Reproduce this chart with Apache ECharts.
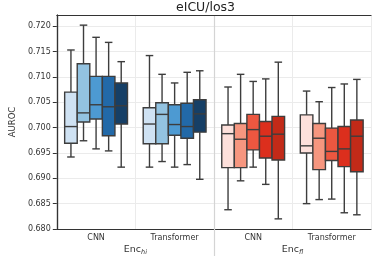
<!DOCTYPE html>
<html><head><meta charset="utf-8">
<script src="https://cdn.jsdelivr.net/npm/echarts@6/dist/echarts.min.js"></script>
<style>html,body{margin:0;padding:0;background:#fff}#c{width:374px;height:259px}</style>
</head><body><div id="c"></div>
<script>
// ---- data ----
const categories = ['CNN', 'Transformer', 'CNN', 'Transformer'];
const groupNames = ['hi', 'fl'];           // Enc subscripts
const yTicks = [0.680, 0.685, 0.690, 0.695, 0.700, 0.705, 0.710, 0.715, 0.720];
// each box: [min, q1, median, q3, max], one entry per category
const hue1 = [[0.6942,0.6969,0.7002,0.7070,0.7153],[0.6922,0.6968,0.7007,0.7039,0.7142],[0.6838,0.6921,0.6988,0.7005,0.7080],[0.6850,0.6950,0.6964,0.7025,0.7072]];
const hue2 = [[0.6974,0.7011,0.7029,0.7126,0.7202],[0.6933,0.6968,0.7026,0.7049,0.7105],[0.6895,0.6921,0.6977,0.7008,0.7105],[0.6858,0.6917,0.6979,0.7008,0.7051]];
const hue3 = [[0.6958,0.7017,0.7045,0.7101,0.7178],[0.6922,0.6985,0.7006,0.7045,0.7088],[0.6922,0.6956,0.6996,0.7026,0.7091],[0.6859,0.6935,0.6953,0.6999,0.7079]];
const hue4 = [[0.6954,0.6984,0.7041,0.7101,0.7168],[0.6927,0.6979,0.7002,0.7048,0.7109],[0.6888,0.6940,0.6983,0.7012,0.7096],[0.6832,0.6923,0.6958,0.7002,0.7086]];
const hue5 = [[0.6922,0.7007,0.7043,0.7088,0.7130],[0.6898,0.6991,0.7027,0.7055,0.7112],[0.6820,0.6936,0.6987,0.7022,0.7129],[0.6828,0.6913,0.6983,0.7015,0.7095]];
const hues = [hue1, hue2, hue3, hue4, hue5];

// ---- style ----
const blues = ['#cfe2f3', '#93c3e1', '#4d9ad2', '#2269a8', '#163f66'];
const reds  = ['#fde0db', '#f6967f', '#ec5740', '#dc2f1d', '#c22a18'];
const FONT = 'DejaVu Sans';
const EDGE = '#3d3d3d';

function makeRender(k) {
  return function (params, api) {
    const cat = api.value(0);
    const band = api.size([1, 0])[0];
    const w = band * 0.8 / 5;
    const off = (k - 2) * w;
    const pMin = api.coord([cat, api.value(1)]);
    const pQ1 = api.coord([cat, api.value(2)]);
    const pMed = api.coord([cat, api.value(3)]);
    const pQ3 = api.coord([cat, api.value(4)]);
    const pMax = api.coord([cat, api.value(5)]);
    const cx = pMin[0] + off;
    const fill = cat < 2 ? blues[k] : reds[k];
    const cap = w * 0.3;
    const ls = { stroke: EDGE, lineWidth: 1.4 };
    return {
      type: 'group',
      children: [
        { type: 'line', shape: { x1: cx, y1: pQ1[1], x2: cx, y2: pMin[1] }, style: ls },
        { type: 'line', shape: { x1: cx, y1: pQ3[1], x2: cx, y2: pMax[1] }, style: ls },
        { type: 'line', shape: { x1: cx - cap, y1: pMin[1], x2: cx + cap, y2: pMin[1] }, style: ls },
        { type: 'line', shape: { x1: cx - cap, y1: pMax[1], x2: cx + cap, y2: pMax[1] }, style: ls },
        { type: 'rect', shape: { x: cx - w / 2, y: pQ3[1], width: w, height: pQ1[1] - pQ3[1] },
          style: { fill: fill, stroke: EDGE, lineWidth: 1.4 } },
        { type: 'line', shape: { x1: cx - w / 2, y1: pMed[1], x2: cx + w / 2, y2: pMed[1] }, style: ls }
      ]
    };
  };
}

const series = hues.map((h, k) => ({
  type: 'custom',
  name: 'h' + (k + 1),
  xAxisIndex: 0, yAxisIndex: 0,
  renderItem: makeRender(k),
  encode: { x: 0, y: [1, 2, 3, 4, 5] },
  data: h.map((b, i) => [i].concat(b)),
  z: 3
}));

const chart = echarts.init(document.getElementById('c'), null, { renderer: 'canvas' });
chart.setOption({
  animation: false,
  backgroundColor: '#fff',
  textStyle: { fontFamily: FONT },
  title: {
    text: 'eICU/los3', left: 176, top: 1, padding: 0,
    textStyle: { fontFamily: FONT, fontSize: 12.5, fontWeight: 'normal', color: '#222' }
  },
  grid: { left: 44, right: 3, top: 15, bottom: 30, show: false },
  xAxis: [
    {
      type: 'category', data: categories, boundaryGap: true,
      axisLine: { lineStyle: { color: '#333', width: 1.2 } },
      axisTick: { alignWithLabel: true, length: 4, lineStyle: { color: '#333', width: 1 } },
      axisLabel: { fontSize: 8, color: '#333', margin: 5, fontFamily: FONT },
      splitLine: { show: true, lineStyle: { color: '#ebebeb', width: 1 } }
    },
    {
      type: 'value', min: 0, max: 4, position: 'bottom',
      axisLine: { show: false },
      axisTick: { show: true, customValues: [2], length: 27, lineStyle: { color: '#d4d4d4', width: 1.2 } },
      axisLabel: {
        show: true, customValues: [1, 3], margin: 15,
        formatter: v => '{a|Enc}{b|' + groupNames[v === 1 ? 0 : 1] + '}',
        rich: {
          a: { fontSize: 9.5, color: '#333', fontFamily: FONT },
          b: { fontSize: 6.5, color: '#333', fontStyle: 'italic', fontFamily: FONT, padding: [5, 0, 0, 0] }
        }
      },
      splitLine: { show: true, lineStyle: { color: '#d4d4d4', width: 1.2 } }
    },
    {
      type: 'value', min: 0, max: 4, position: 'top',
      axisLine: { show: true, lineStyle: { color: '#333', width: 1.2 } },
      axisTick: { show: false }, axisLabel: { show: false }, splitLine: { show: false }
    }
  ],
  yAxis: [
    {
      type: 'value', min: 0.680, max: 0.7222, interval: 0.005,
      name: 'AUROC', nameLocation: 'middle', nameGap: 34,
      nameTextStyle: { fontSize: 8.5, color: '#333', fontFamily: FONT },
      axisLine: { show: true, lineStyle: { color: '#333', width: 1.2 } },
      axisTick: { show: true, customValues: yTicks, length: 4, lineStyle: { color: '#333', width: 1 } },
      axisLabel: { customValues: yTicks, formatter: v => v.toFixed(3), fontSize: 8, color: '#333', margin: 6, fontFamily: FONT },
      splitLine: { show: true, lineStyle: { color: '#ebebeb', width: 1 } }
    },
    {
      type: 'value', min: 0.680, max: 0.7222, position: 'right',
      axisLine: { show: true, lineStyle: { color: '#333', width: 1.2 } },
      axisTick: { show: false }, axisLabel: { show: false }, splitLine: { show: false }
    }
  ],
  series: series
});
</script>
</body></html>
